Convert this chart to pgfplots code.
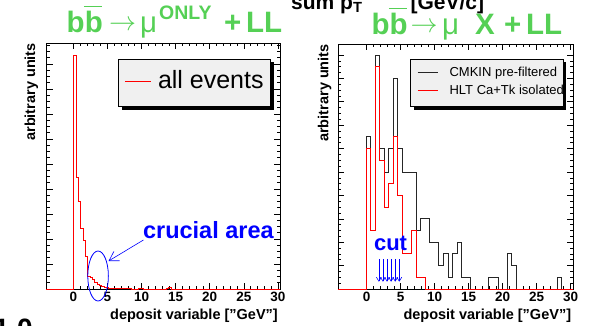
\documentclass[border=0pt]{standalone}
\usepackage{pgfplots}
\pgfplotsset{compat=1.18}
\usepackage{fontspec}
\setmainfont{Liberation Sans}
\usetikzlibrary{shadows,arrows.meta}

\definecolor{titlegreen}{RGB}{85,208,85}
\definecolor{legendfill}{RGB}{240,240,240}

% b with a bar over it
\newcommand{\bbar}{\makebox[0pt][l]{\hspace{-0.03em}\rule[0.88em]{0.62em}{0.6pt}}b}
\newcommand{\fs}[1]{\fontsize{#1}{#1}\selectfont}
% a thin arrow 27pt long
\newcommand{\tarrow}{\resizebox{27pt}{!}{$\rightarrow$}}
% a title piece in a box of fixed width
\newcommand{\piece}[2]{\makebox[#1][l]{#2}}

\tikzset{
  legendbox/.style={draw=black, line width=0.8pt, fill=legendfill,
    drop shadow={shadow xshift=3.2pt, shadow yshift=-3pt, fill=black, opacity=1}},
}

\pgfplotsset{
  rootframe/.style={
    scale only axis,
    xmin=-3.9, xmax=30.3,
    ymin=0,
    clip=false,
    axis line style={line width=0.9pt},
    tick align=inside,
    xtick pos=both, ytick pos=both,
    xtick={0,5,...,30},
    minor x tick num=4,
    ytick distance=1,
    minor y tick num=3,
    yticklabels={},
    major tick length=6pt,
    minor tick length=3pt,
    every tick/.style={line width=0.6pt, black},
    /pgf/number format/assume math mode=true,
    xticklabel style={font=\fs{13.5}\bfseries, inner sep=0pt, yshift=-2.7pt},
    xlabel={deposit variable [\char34 GeV\char34]},
    xlabel style={at={(axis description cs:1,0)}, anchor=base east,
      yshift=-30pt, xshift=-2pt, font=\fs{14.5}\bfseries, inner sep=0pt},
    ylabel={arbitrary units},
    ylabel style={anchor=base east, font=\fs{14.5}\bfseries, inner sep=0pt},
    title style={anchor=base west, font=\fs{29.5}\bfseries, text=titlegreen, inner sep=0pt},
    legend style={draw=none, fill=none, inner ysep=0pt,
      nodes={inner sep=0pt}, cells={anchor=base west}},
  },
  hist/.style={const plot, line width=0.9pt},
}

\begin{document}
\begin{tikzpicture}[x=1pt,y=1pt]
\path[use as bounding box] (0,0) rectangle (590,325);

% axis title of the plot above
\node[anchor=base west, font=\fs{21}\bfseries, inner sep=0pt] at (291,316)
  {sum p\textsubscript{T}\hspace{48pt}[GeV/c]};
% caption fragment below
\node[anchor=base west, font=\fs{28}\bfseries, inner sep=0pt] at (-6.4,-13) {1.0};

%---------------- left: b bbar -> mu only ----------------
\begin{axis}[rootframe,
  at={(46.7pt,36pt)}, anchor=south west,
  width=233.3pt, height=246pt, ymax=9.84,
  ylabel style={at={(axis description cs:-0.05,1)}},
  title={\piece{42pt}{b\bbar}\piece{31.5pt}{\hspace{0.5pt}\raisebox{1.5pt}{\tarrow}}\piece{19pt}{\mdseries μ}\piece{65pt}{\raisebox{0.45em}{\fs{19.5}ONLY}}\piece{22pt}{+}LL},
  title style={at={(axis description cs:0.085,1.019)}},
  legend style={at={(axis description cs:0.307,0.934)}, anchor=north west,
    inner xsep=5.7pt,
    /tikz/every odd column/.append style={column sep=6.7pt},
    font=\fs{25}},
  legend image code/.code={\path (0pt,0pt); \draw[#1, draw=red, line width=1.1pt] (0pt,6.5pt) -- (26pt,6.5pt);},
]
\draw[legendbox] (axis description cs:0.307,0.934) rectangle (axis description cs:0.960,0.741);

\addplot[hist, red] coordinates {
  (-4,0) (0.08,9.36) (0.42,4.48) (0.76,3.52) (1.10,2.44) (1.44,1.96)
  (1.78,1.30) (2.12,0.49) (2.46,0.47) (2.80,0.40) (3.14,0.26) (3.48,0.20)
  (3.82,0.16) (4.16,0.10) (4.50,0.06) (4.84,0.05) (5.18,0.03) (5.52,0.04)
  (5.86,0.02) (6.20,0.03) (6.54,0.02) (6.88,0.04) (7.22,0.02) (7.56,0.01)
  (7.90,0.02) (8.24,0.01) (8.58,0) (9.60,0.04) (9.94,0.02) (10.28,0)
  (13.68,0.03) (14.02,0.05) (14.36,0) (30.3,0)
};
\addlegendentry{\makebox[108pt][l]{\rule[-18.5pt]{0pt}{47.4pt}all events}}

% the region of interest
\draw[blue, line width=0.8pt] (axis cs:3.63,0.52) ellipse [x radius=10.3pt, y radius=25pt];
\draw[blue, line width=0.6pt, -{Straight Barb[length=9pt,width=11pt]}]
  (axis cs:10.28,1.96) -- (axis cs:5.17,1.12);
\node[anchor=base west, text=blue, font=\fs{23.5}\bfseries, inner sep=0pt]
  at (axis cs:10.2,2.03) {crucial area};
\end{axis}

%---------------- right: b bbar -> mu X ----------------
\begin{axis}[rootframe,
  at={(338.3pt,36pt)}, anchor=south west,
  width=235pt, height=245pt, ymax=10.47,
  xmin=-4.17, xmax=30.4,
  ylabel style={at={(axis description cs:-0.042,1)}},
  title={\piece{38.6pt}{b\bbar}\piece{31.8pt}{\hspace{0.5pt}\raisebox{1.5pt}{\tarrow}}\piece{33.2pt}{\mdseries μ}\piece{29pt}{X}\piece{22pt}{+}LL},
  title style={at={(axis description cs:0.141,1.016)}},
  legend style={at={(axis description cs:0.309,0.938)}, anchor=north west,
    inner xsep=6pt,
    /tikz/every odd column/.append style={column sep=11pt},
    font=\fs{13}},
  legend image code/.code={\path (0pt,0pt); \draw[#1, line width=0.8pt] (0pt,3.4pt) -- (20.6pt,3.4pt);},
]
\draw[legendbox] (axis description cs:0.308,0.939) rectangle (axis description cs:0.957,0.744);

\addplot[hist, black!85] coordinates {
  (-4.17,0) (-0.10,6.5) (0.57,2.5) (1.24,10) (1.91,6) (2.58,5) (3.25,6)
  (3.92,9) (4.59,6) (5.26,5) (7.27,2.5) (7.94,3) (9.28,2) (10.62,1)
  (11.29,1.5) (11.96,0.5) (12.63,1.5) (13.30,2) (13.97,0.5) (15.31,0)
  (17.99,0.5) (19.33,0) (20.67,1.5) (21.34,1) (22.01,0) (28.04,0.5)
  (28.71,0) (30.4,0)
};
\addlegendentry{\makebox[104pt][l]{\rule[-5.5pt]{0pt}{22.2pt}CMKIN pre-filtered}}
\addplot[hist, red] coordinates {
  (-4.17,0) (-0.10,6) (0.57,2.5) (1.24,9.5) (1.91,5.5) (2.58,3.5) (3.25,4.5)
  (3.92,6.5) (4.59,4) (5.26,1.5) (6.60,2.5) (7.27,0.5) (8.61,0) (30.4,0)
};
\addlegendentry{\makebox[104pt][l]{\rule[-9pt]{0pt}{25.5pt}HLT Ca+Tk isolated}}

% cut marks
\node[anchor=base west, text=blue, font=\fs{22}\bfseries, inner sep=0pt]
  at (axis cs:1.06,1.64) {cut};
\pgfplotsinvokeforeach{1.8,2.4,3.0,3.6,4.2,4.8}{
  \draw[blue, line width=0.6pt, -{Straight Barb[length=4pt,width=5pt]}]
    (axis cs:#1,1.27) -- (axis cs:#1,0.31);
}
\end{axis}
\end{tikzpicture}
\end{document}
